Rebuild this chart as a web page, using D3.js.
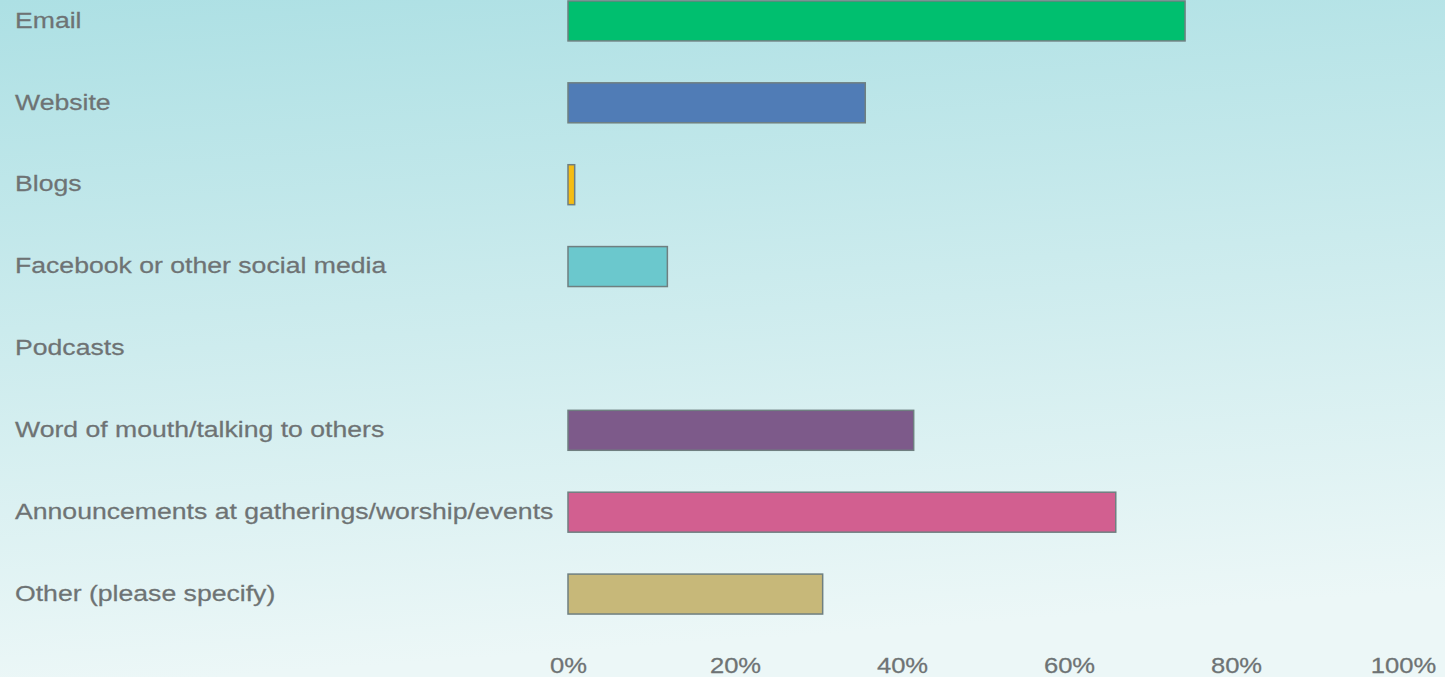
<!DOCTYPE html>
<html>
<head>
<meta charset="utf-8">
<script src="https://cdn.jsdelivr.net/npm/d3@7/dist/d3.min.js"></script>
<style>
  html, body { margin: 0; padding: 0; }
  body { width: 1445px; height: 677px; overflow: hidden; }
  text { font-family: "Liberation Sans", Arial, sans-serif; fill: #6e7374; }
</style>
</head>
<body>
<svg id="chart" width="1445" height="677"></svg>
<script>
const categories = [
  "Email",
  "Website",
  "Blogs",
  "Facebook or other social media",
  "Podcasts",
  "Word of mouth/talking to others",
  "Announcements at gatherings/worship/events",
  "Other (please specify)"
];
const values = [73.9, 35.6, 0.8, 11.9, 0, 41.4, 65.6, 30.5];
const colors = ["#00bf6f", "#507cb6", "#f5bd13", "#6bc8cd", "#9aa0a6", "#7d5a8a", "#d25f90", "#c7b879"];
const tickValues = [0, 20, 40, 60, 80, 100];

const W = 1445, H = 677;
const TEXT_STRETCH = 1.21; // wide-set lettering
const svg = d3.select("#chart");

const defs = svg.append("defs");
const grad = defs.append("linearGradient")
  .attr("id", "bg").attr("x1", 0).attr("y1", 0).attr("x2", 0.15).attr("y2", 1);
grad.append("stop").attr("offset", "0%").attr("stop-color", "#ade0e4");
grad.append("stop").attr("offset", "100%").attr("stop-color", "#ecf7f7");
svg.append("rect").attr("width", W).attr("height", H).attr("fill", "url(#bg)");

const x = d3.scaleLinear().domain([0, 100]).range([568, 1403]);
const y = d3.scaleBand().domain(categories).range([-20, 635]).paddingInner(0.512).paddingOuter(0.256);

// category labels
svg.append("g")
  .attr("transform", `translate(15,0) scale(${TEXT_STRETCH},1)`)
  .selectAll("text").data(categories).join("text")
  .attr("x", 0)
  .attr("y", d => y(d) + y.bandwidth() / 2 - 1)
  .attr("dy", "0.35em")
  .attr("font-size", 22)
  .attr("stroke", "#6e7374")
  .attr("stroke-width", 0.25)
  .text(d => d);

// bars (categories with no responses draw nothing)
const rows = categories.map((c, i) => ({ c, v: values[i], col: colors[i] })).filter(d => d.v > 0);
svg.append("g").selectAll("rect").data(rows).join("rect")
  .attr("x", x(0))
  .attr("y", d => y(d.c))
  .attr("width", d => x(d.v) - x(0))
  .attr("height", y.bandwidth())
  .attr("fill", d => d.col)
  .attr("stroke", "#6f7f80")
  .attr("stroke-width", 1.5);

// x axis tick labels
const axis = d3.axisBottom(x).tickValues(tickValues).tickFormat(d => d + "%").tickSize(0).tickPadding(0);
const ax = svg.append("g").attr("transform", "translate(0,658)").call(axis);
ax.select(".domain").remove();
ax.selectAll("text")
  .attr("font-size", 21.5)
  .attr("fill", "#6e7374")
  .attr("stroke", "#6e7374")
  .attr("stroke-width", 0.25)
  .attr("font-family", "Liberation Sans, Arial, sans-serif")
  .attr("transform", `scale(${TEXT_STRETCH - 0.02},1)`);
</script>
</body>
</html>
